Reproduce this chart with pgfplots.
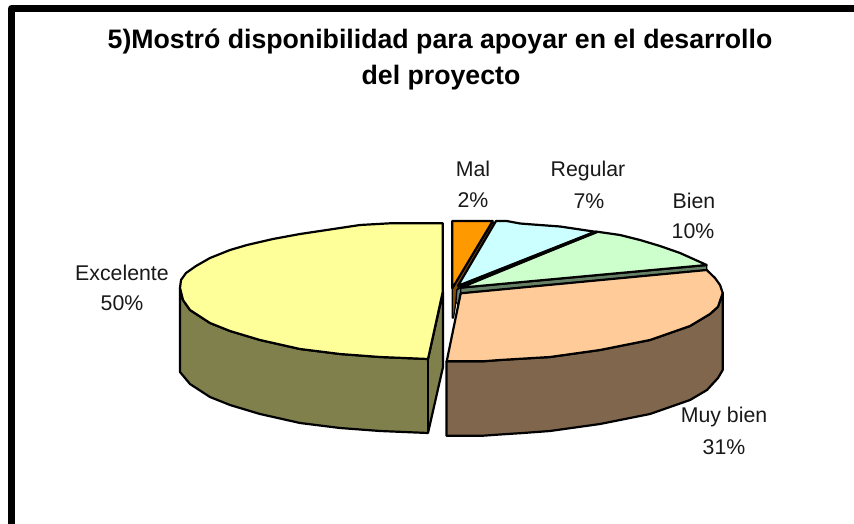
\documentclass[border=0pt]{standalone}
\usepackage{pgfplots}
\pgfplotsset{compat=1.18}
\usepackage{fontspec}
\setmainfont{Liberation Sans}
\definecolor{cExc}{HTML}{FFFF99}\definecolor{cExcS}{HTML}{80804D}
\definecolor{cMal}{HTML}{FF9900}\definecolor{cMalS}{HTML}{804D00}
\definecolor{cReg}{HTML}{CCFFFF}\definecolor{cRegS}{HTML}{668080}
\definecolor{cBie}{HTML}{CCFFCC}\definecolor{cBieS}{HTML}{668066}
\definecolor{cMuy}{HTML}{FFCC99}\definecolor{cMuyS}{HTML}{80664D}
\tikzset{lab/.style={font=\fontsize{21.3}{25}\selectfont,text=black!90,align=center,inner sep=0pt},
 ttl/.style={font=\bfseries\fontsize{26.7}{30}\selectfont,text=black,inner sep=0pt}}
\begin{document}
\begin{tikzpicture}
\useasboundingbox (0,0) rectangle (854pt,524pt);
\begin{axis}[
  at={(0,0)},anchor=south west,
  scale only axis,width=854pt,height=524pt,
  xmin=0,xmax=854,ymin=0,ymax=524,y dir=reverse,
  hide axis,
  every axis plot/.append style={line join=round},
]
% frame
\addplot[black,line width=6.8pt,line join=round] coordinates {(11.5,524)(11.5,8.5)(854,8.5)};
% Excelente side
\addplot[fill=cExcS,draw=black,line width=2.2pt] coordinates {(180,288)(180,372)(190,384)(210,397)(230,405)(260,414)(300,423)(340,428)(380,431)(428,433)(443,367)(443,292)(428,359)(380,357)(340,354)(300,349)(260,340)(230,331)(210,323)(190,310)(183,300)} --cycle;
\addplot[draw=black,line width=2.2pt] coordinates {(428,359)(428,433)};
% Excelente top
\addplot[fill=cExc,draw=black,line width=2.2pt] coordinates {(442.7,223.3)(390,223.3)(360,225)(340,228)(326.7,230)(300,234)(273,239)(247,245)(230,250)(210,258)(196,266)(186,273)(181,280)(180,288)(183,300)(190,310)(210,323)(230,331)(260,340)(300,349)(340,354)(380,357)(428,359)(442.7,292)} --cycle;
% Mal side and top
\addplot[fill=cMalS,draw=black,line width=1.2pt] coordinates {(452.3,288.3)(493,222)(495,223.5)(457,290)(456,302)(453.5,318)(452.3,318)} --cycle;
\addplot[fill=cMal,draw=black,line width=2.2pt] coordinates {(452.3,221)(492.7,221)(452.3,288.3)} --cycle;
% Regular side
\addplot[fill=cRegS,draw=black,line width=1.2pt] coordinates {(456.8,290)(460.7,287.5)(461,298)(458.5,305)(456,302)} --cycle;
% Regular top
\addplot[fill=cReg,draw=black,line width=2.2pt] coordinates {(458,285.8)(496,221)(506.7,221)(520,223.5)(533,224.5)(560,226.5)(595,231.7)} --cycle;
% Bien side
\addplot[fill=cBieS,draw=black,line width=1.2pt] coordinates {(460.7,288)(706.7,265.5)(706.7,270)(460.7,293.3)} --cycle;
% Bien top
\addplot[fill=cBie,draw=black,line width=2.2pt] coordinates {(597,231.7)(620,235)(640,240)(660,246)(680,253)(706.7,265)(460.7,287.7)} --cycle;
% divider Regular/Bien
\addplot[black,line width=3pt] coordinates {(597,231.7)(459,286.5)};
% Muy bien side
\addplot[fill=cMuyS,draw=black,line width=2.2pt] coordinates {(446.5,361.3)(446.5,435.7)(483,435.7)(500,434.5)(523,433)(550,431)(600,424)(650,414)(690,400)(707,390)(718,378)(722.7,370)(722.7,293)(718,306.7)(710,314)(690,326)(650,340)(600,350)(550,357)(500,360)(483,361.3)} --cycle;
% Muy bien top
\addplot[fill=cMuy,draw=black,line width=2.2pt] coordinates {(460.7,293.3)(706.7,270)(715,278)(720,285)(722.7,293)(718,306.7)(710,314)(690,326)(650,340)(600,350)(550,357)(500,360)(483,361.3)(446.7,361.3)} --cycle;
% labels
\node[ttl] at (axis cs:440,41) {5)Mostró disponibilidad para apoyar en el desarrollo};
\node[ttl] at (axis cs:441,78) {del proyecto};
\node[lab] at (axis cs:122,273) {Excelente};\node[lab] at (axis cs:122,303) {50\%};
\node[lab] at (axis cs:473,169) {Mal};\node[lab] at (axis cs:473,200) {2\%};
\node[lab] at (axis cs:588,171) {Regular};\node[lab] at (axis cs:589,201) {7\%};
\node[lab] at (axis cs:694,201) {Bien};\node[lab] at (axis cs:693,231) {10\%};
\node[lab] at (axis cs:724,417) {Muy bien};\node[lab] at (axis cs:724,447) {31\%};
\end{axis}
\end{tikzpicture}
\end{document}
